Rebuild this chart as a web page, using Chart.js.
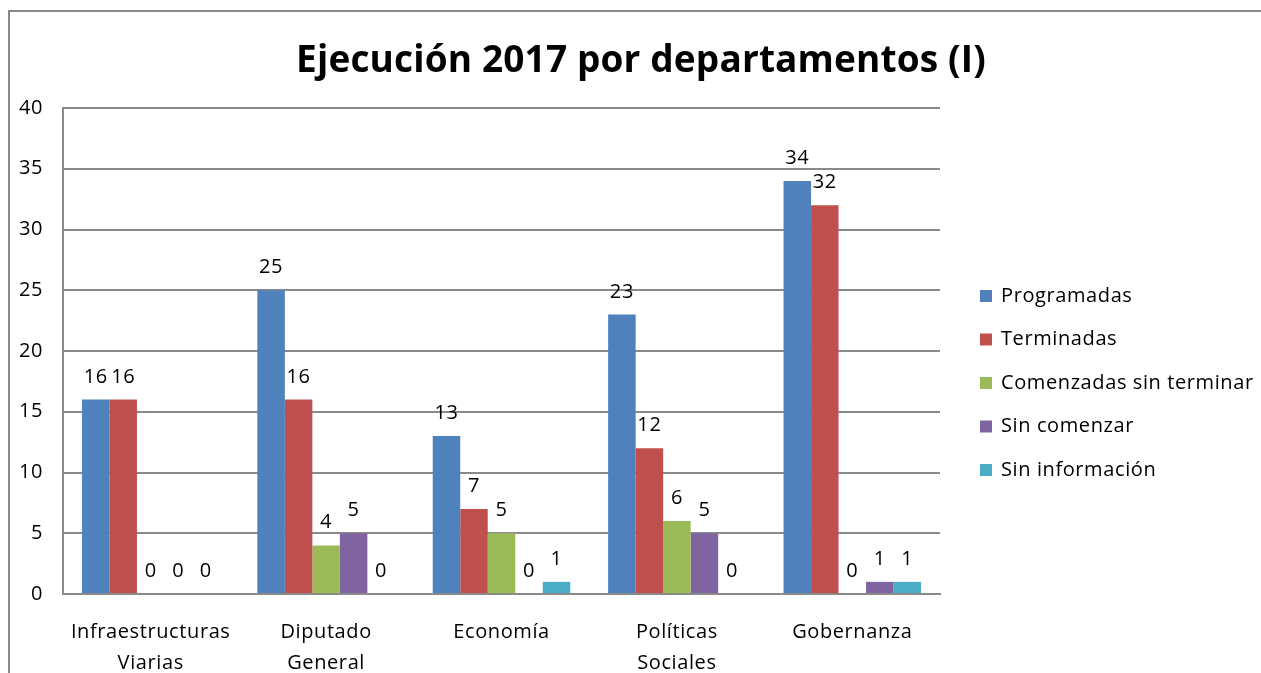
<!DOCTYPE html>
<html>
<head>
<meta charset="utf-8">
<script src="https://cdn.jsdelivr.net/npm/chart.js@4.4.1/dist/chart.umd.min.js"></script>
<style>
html,body{margin:0;padding:0;background:#fff;overflow:hidden;}
#c{display:block;}
</style>
</head>
<body>
<canvas id="c" width="1261" height="673"></canvas>
<script>
const chartTitle = 'Ejecución 2017 por departamentos (I)';
const categories = [['Infraestructuras','Viarias'],['Diputado','General'],['Economía'],['Políticas','Sociales'],['Gobernanza']];
const seriesNames = ['Programadas','Terminadas','Comenzadas sin terminar','Sin comenzar','Sin información'];
const programadas = [16, 25, 13, 23, 34];
const terminadas = [16, 16, 7, 12, 32];
const comenzadas = [0, 4, 5, 6, 0];
const sinComenzar = [0, 5, 0, 5, 1];
const sinInformacion = [0, 0, 1, 0, 1];
const seriesColors = ['#4F81BD','#C0504D','#9BBB59','#8064A2','#4BACC6'];
const yTicks = [0,5,10,15,20,25,30,35,40];

const FONT = "'Open Sans', sans-serif";
const FSIZE = 20;
const SPACING = '0.6px';
const GRID = '#8a8a8a';

const seriesValues = [programadas, terminadas, comenzadas, sinComenzar, sinInformacion];

const decor = {
  id: 'decor',
  beforeDraw(chart) {
    const ctx = chart.ctx;
    ctx.save();
    ctx.strokeStyle = GRID;
    ctx.lineWidth = 2;
    ctx.beginPath();
    ctx.moveTo(9, 700);
    ctx.lineTo(9, 11);
    ctx.lineTo(1300, 11);
    ctx.stroke();
    ctx.restore();
    ctx.letterSpacing = SPACING;
  },
  afterDatasetsDraw(chart) {
    const ctx = chart.ctx;
    ctx.save();
    ctx.letterSpacing = SPACING;
    ctx.font = FSIZE + 'px ' + FONT;
    ctx.fillStyle = '#000';
    ctx.textAlign = 'center';
    ctx.textBaseline = 'alphabetic';
    chart.data.datasets.forEach((ds, i) => {
      const meta = chart.getDatasetMeta(i);
      meta.data.forEach((bar, j) => {
        ctx.fillText(String(ds.data[j]), bar.x, bar.y - 17);
      });
    });
    ctx.restore();
  },
  afterDraw(chart) {
    const ctx = chart.ctx;
    ctx.save();
    // title
    ctx.letterSpacing = '0.15px';
    ctx.font = 'bold 37px ' + FONT;
    ctx.fillStyle = '#000';
    ctx.textAlign = 'center';
    ctx.textBaseline = 'alphabetic';
    ctx.fillText(chartTitle, 641, 72);
    // legend
    ctx.letterSpacing = SPACING;
    ctx.font = FSIZE + 'px ' + FONT;
    ctx.textAlign = 'left';
    ctx.textBaseline = 'middle';
    chart.data.datasets.forEach((ds, i) => {
      const cy = 296 + i * 43.5;
      ctx.fillStyle = ds.backgroundColor;
      ctx.fillRect(980, cy - 6, 12, 12);
      ctx.fillStyle = '#000';
      ctx.fillText(ds.label, 1001, cy);
    });
    ctx.restore();
  }
};

new Chart(document.getElementById('c'), {
  type: 'bar',
  data: {
    labels: categories,
    datasets: seriesNames.map((name, i) => ({
      label: name,
      data: seriesValues[i],
      backgroundColor: seriesColors[i],
      borderWidth: 0,
      barPercentage: 1,
      categoryPercentage: 0.784
    }))
  },
  options: {
    responsive: false,
    animation: false,
    devicePixelRatio: 1,
    layout: { padding: { top: 108, right: 321, bottom: 0, left: 0 } },
    plugins: { legend: { display: false }, title: { display: false }, tooltip: { enabled: false } },
    scales: {
      x: {
        grid: { display: false, drawTicks: false },
        border: { display: true, color: GRID, width: 2 },
        ticks: { color: '#000', font: { family: FONT, size: FSIZE, lineHeight: '31px' }, padding: 23, maxRotation: 0, autoSkip: false },
        afterFit(scale) { scale.height = 79; }
      },
      y: {
        min: 0, max: 40,
        afterBuildTicks(scale) { scale.ticks = yTicks.map(v => ({ value: v })); },
        grid: { color: GRID, lineWidth: 2, drawTicks: false },
        border: { display: true, color: GRID, width: 2 },
        ticks: { color: '#000', font: { family: FONT, size: FSIZE }, padding: 20 },
        afterFit(scale) { scale.width = 63; }
      }
    }
  },
  plugins: [decor]
});
</script>
</body>
</html>
